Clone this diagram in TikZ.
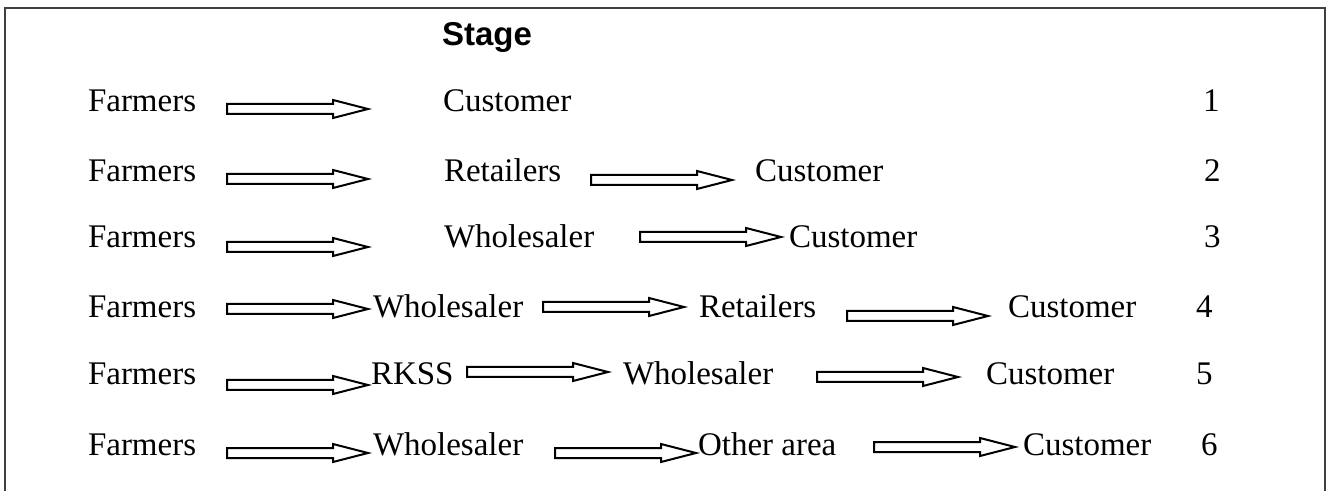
\documentclass[tikz,border=0pt]{standalone}
\usepackage{fontspec}
\setmainfont{Liberation Serif}
\newfontfamily\headfont{Liberation Sans}
% hollow block arrow, 141 units long, from a left-end coordinate
\newcommand{\blockarrow}[1]{%
  \draw[hollow] (#1) ++(0,-5) -- ++(106,0) -- ++(0,-4) -- ++(35,9)
    -- ++(-35,9) -- ++(0,-4) -- ++(-106,0) -- cycle;}

\begin{document}
\begin{tikzpicture}[x=0.5pt,y=-0.5pt,line width=1pt,
	lbl/.style={anchor=base west,inner sep=0pt,font=\fontsize{16.5}{20}\selectfont},
	hollow/.style={draw=black,line width=1pt,line join=miter,fill=white}]
	\useasboundingbox (0,0) rectangle (1327,491);
	% frame, open at the bottom
	\draw[black!75] (5,491) -- (5,8) -- (1325,8) -- (1325,491);
	\node[anchor=base west,inner sep=0pt,font=\headfont\bfseries\fontsize{16.5}{20}\selectfont] (stage) at (441,46) {Stage};
	% first column and stage numbers
	\foreach \y/\n in {112/1,182/2,248/3,318/4,385/5,455/6}
	\node[lbl] (farm\n) at (87,\y) {Farmers};
	\foreach \x/\y/\n in {1202/112/1,1203/182/2,1203/248/3,1195/318/4,1195/385/5,1200/455/6}
	\node[lbl] (num\n) at (\x,\y) {\n};
	% row 1
	\node[lbl] (cust1) at (442,112) {Customer};
	% row 2
	\node[lbl] (ret2) at (443,182) {Retailers};
	\node[lbl] (cust2) at (754,182) {Customer};
	% row 3
	\node[lbl] (whole3) at (443,248) {Wholesaler};
	\node[lbl] (cust3) at (788,248) {Customer};
	% row 4
	\node[lbl] (whole4) at (372,318) {Wholesaler};
	\node[lbl] (ret4) at (698,318) {Retailers};
	\node[lbl] (cust4) at (1007,318) {Customer};
	% row 5
	\node[lbl] (rkss5) at (370,385) {RKSS};
	\node[lbl] (whole5) at (622,385) {Wholesaler};
	\node[lbl] (cust5) at (985,385) {Customer};
	% row 6
	\node[lbl] (whole6) at (372,455) {Wholesaler};
	\node[lbl] (other6) at (697,455) {Other area};
	\node[lbl] (cust6) at (1022,455) {Customer};
	% arrow tails
	\coordinate (a1) at (227,109);
	\coordinate (a2) at (227,179);
	\coordinate (b2) at (591,180);
	\coordinate (a3) at (227,247);
	\coordinate (b3) at (640,237);
	\coordinate (a4) at (227,309);
	\coordinate (b4) at (543,307);
	\coordinate (c4) at (847,316);
	\coordinate (a5) at (227,385);
	\coordinate (b5) at (467,372);
	\coordinate (c5) at (817,377);
	\coordinate (a6) at (227,453);
	\coordinate (b6) at (555,453);
	\coordinate (c6) at (874,447);
	\foreach \a in {a1,a2,b2,a3,b3,a4,b4,c4,a5,b5,c5,a6,b6,c6}
	{\blockarrow{\a}}
\end{tikzpicture}
\end{document}
